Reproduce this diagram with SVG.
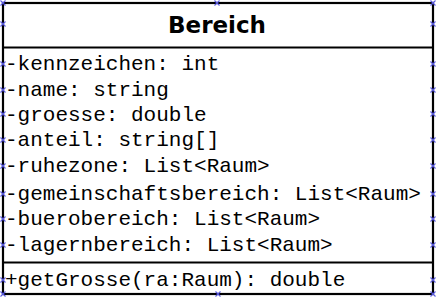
<svg xmlns="http://www.w3.org/2000/svg" width="436" height="297" viewBox="0 0 436 297">
  <style>
    .frame { fill: #ffffff; stroke: #000000; stroke-width: 2.2; }
    .sep { stroke: #000000; stroke-width: 2.2; }
    .title { font-family: "DejaVu Sans", "Liberation Sans", sans-serif; font-weight: bold; font-size: 23px; fill: #000000; }
    .member { font-family: "Liberation Mono", "Courier New", monospace; font-size: 21px; fill: #000000; }
    .handle { stroke: #5a5ae0; stroke-width: 1.1; fill: none; }
  </style>
  <defs>
    <path id="hx" class="handle" d="M-2.5,-2.5 L2.5,2.5 M-2.5,2.5 L2.5,-2.5"/>
  </defs>

  <g id="class-Bereich">
    <rect class="frame" x="3" y="3" width="430" height="291"/>
    <line class="sep" x1="3" y1="47.5" x2="433" y2="47.5"/>
    <line class="sep" x1="3" y1="262.5" x2="433" y2="262.5"/>

    <text class="title" x="217" y="33" text-anchor="middle">Bereich</text>

    <g id="attributes">
      <text class="member" x="5" y="70">-kennzeichen: int</text>
      <text class="member" x="5" y="96">-name: string</text>
      <text class="member" x="5" y="121">-groesse: double</text>
      <text class="member" x="5" y="146">-anteil: string[]</text>
      <text class="member" x="5" y="172">-ruhezone: List&lt;Raum&gt;</text>
      <text class="member" x="5" y="200">-gemeinschaftsbereich: List&lt;Raum&gt;</text>
      <text class="member" x="5" y="225">-buerobereich: List&lt;Raum&gt;</text>
      <text class="member" x="5" y="251">-lagernbereich: List&lt;Raum&gt;</text>
    </g>

    <g id="operations">
      <text class="member" x="5" y="286">+getGrosse(ra:Raum): double</text>
    </g>
  </g>

  <!-- selection handles along the frame -->
  <g id="handles">
    <use href="#hx" x="3" y="3"/>
    <use href="#hx" x="3" y="24"/>
    <use href="#hx" x="3" y="64"/>
    <use href="#hx" x="3" y="90"/>
    <use href="#hx" x="3" y="114"/>
    <use href="#hx" x="3" y="140"/>
    <use href="#hx" x="3" y="166"/>
    <use href="#hx" x="3" y="194"/>
    <use href="#hx" x="3" y="219"/>
    <use href="#hx" x="3" y="245"/>
    <use href="#hx" x="3" y="280"/>
    <use href="#hx" x="3" y="294"/>
    <use href="#hx" x="433" y="3"/>
    <use href="#hx" x="433" y="24"/>
    <use href="#hx" x="433" y="64"/>
    <use href="#hx" x="433" y="90"/>
    <use href="#hx" x="433" y="114"/>
    <use href="#hx" x="433" y="140"/>
    <use href="#hx" x="433" y="166"/>
    <use href="#hx" x="433" y="194"/>
    <use href="#hx" x="433" y="219"/>
    <use href="#hx" x="433" y="245"/>
    <use href="#hx" x="433" y="280"/>
    <use href="#hx" x="433" y="294"/>
    <use href="#hx" x="217" y="3"/>
    <use href="#hx" x="218" y="294"/>
  </g>
</svg>
